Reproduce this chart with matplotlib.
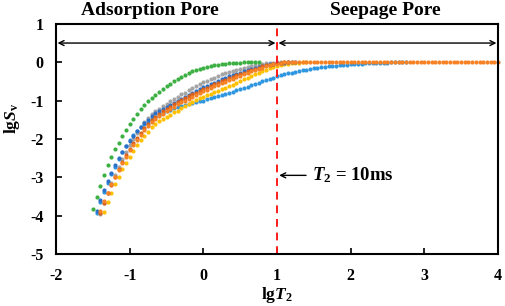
import numpy as np
import matplotlib
matplotlib.use("Agg")
import matplotlib.pyplot as plt

# lgT2 sampling step (points are evenly spaced in lgT2)
STEP = 0.05

# lgSv values for each sample; each series starts at its own lgT2
green_start = -1.50
green = [-3.84, -3.52, -3.23, -2.95, -2.69, -2.47, -2.27, -2.10, -1.93, -1.77,
         -1.62, -1.48, -1.35, -1.23, -1.12, -1.02, -0.93, -0.85, -0.77, -0.70,
         -0.63, -0.56, -0.50, -0.44, -0.38, -0.33, -0.28, -0.24, -0.20, -0.17,
         -0.15, -0.12, -0.10, -0.08, -0.065, -0.05, -0.04, -0.03, -0.022, -0.016,
         -0.011, -0.007, -0.004, -0.002, -0.001, 0.0]

lightblue_start = -1.45
lightblue = [-3.92, -3.64, -3.38, -3.14, -2.92, -2.72, -2.53, -2.35, -2.18, -2.02,
             -1.90, -1.79, -1.70, -1.62, -1.55, -1.49, -1.43, -1.38, -1.33, -1.28,
             -1.24, -1.20, -1.17, -1.14, -1.11, -1.08, -1.06, -1.04, -1.02, -1.00,
             -0.97, -0.94, -0.91, -0.88, -0.86, -0.83, -0.80, -0.77, -0.73, -0.70,
             -0.67, -0.64, -0.60, -0.57, -0.54, -0.50, -0.47, -0.44, -0.40, -0.37,
             -0.34, -0.31, -0.29, -0.27, -0.25, -0.23, -0.21, -0.19, -0.175, -0.16,
             -0.145, -0.13, -0.12, -0.11, -0.10, -0.09, -0.08, -0.07, -0.062, -0.055,
             -0.048, -0.042, -0.036, -0.03, -0.025, -0.02, -0.016, -0.013, -0.01, -0.008,
             -0.006, -0.004, -0.002, -0.001, 0.0]

darkblue_start = -1.45
darkblue = [-3.88, -3.60, -3.34, -3.10, -2.88, -2.68, -2.50, -2.33, -2.18, -2.05,
            -1.92, -1.80, -1.69, -1.59, -1.50, -1.41, -1.33, -1.27, -1.22, -1.17,
            -1.11, -1.06, -1.00, -0.95, -0.90, -0.85, -0.80, -0.75, -0.70, -0.65,
            -0.61, -0.57, -0.53, -0.49, -0.45, -0.41, -0.37, -0.34, -0.30, -0.27,
            -0.24, -0.21, -0.18, -0.15, -0.12, -0.095, -0.075, -0.055, -0.04, -0.028,
            -0.018, -0.01, -0.005, -0.002, 0.0]

gray_start = -1.40
gray = [-3.97, -3.68, -3.41, -3.16, -2.93, -2.72, -2.52, -2.33, -2.15, -1.99,
        -1.84, -1.70, -1.57, -1.45, -1.36, -1.28, -1.21, -1.14, -1.08, -1.02,
        -0.96, -0.90, -0.84, -0.79, -0.73, -0.68, -0.63, -0.57, -0.52, -0.48,
        -0.44, -0.40, -0.36, -0.32, -0.29, -0.26, -0.23, -0.20, -0.17, -0.145,
        -0.12, -0.095, -0.075, -0.06, -0.045, -0.03, -0.02, -0.01, -0.004, 0.0]

yellow_start = -1.35
yellow = [-3.90, -3.64, -3.40, -3.18, -2.98, -2.79, -2.62, -2.46, -2.31, -2.17,
          -2.04, -1.92, -1.81, -1.70, -1.60, -1.52, -1.47, -1.42, -1.37, -1.31,
          -1.26, -1.20, -1.15, -1.09, -1.04, -0.99, -0.94, -0.90, -0.86, -0.82,
          -0.78, -0.75, -0.71, -0.67, -0.63, -0.59, -0.54, -0.50, -0.45, -0.40,
          -0.36, -0.31, -0.27, -0.23, -0.19, -0.15, -0.12, -0.09, -0.07, -0.05,
          -0.035, -0.025, -0.016, -0.009, -0.004, 0.0]

brown_start = -1.40
brown = [-3.94, -3.67, -3.42, -3.19, -2.98, -2.78, -2.59, -2.42, -2.26, -2.11,
         -1.97, -1.84, -1.72, -1.61, -1.51, -1.42, -1.34, -1.28, -1.22, -1.16,
         -1.10, -1.04, -0.99, -0.94, -0.89, -0.84, -0.79, -0.74, -0.70, -0.66,
         -0.62, -0.58, -0.54, -0.50, -0.46, -0.42, -0.38, -0.34, -0.30, -0.27,
         -0.23, -0.20, -0.17, -0.14, -0.11, -0.085, -0.065, -0.045, -0.03, -0.015,
         -0.006, 0.0]

orange_start = -1.40
orange = [-3.88, -3.63, -3.40, -3.18, -2.98, -2.80, -2.62, -2.46, -2.30, -2.16,
          -2.02, -1.89, -1.77, -1.66, -1.56, -1.47, -1.40, -1.34, -1.28, -1.22,
          -1.16, -1.10, -1.05, -1.00, -0.95, -0.90, -0.85, -0.80, -0.76, -0.72,
          -0.67, -0.63, -0.59, -0.55, -0.51, -0.47, -0.43, -0.39, -0.35, -0.31,
          -0.27, -0.24, -0.20, -0.17, -0.14, -0.11, -0.08, -0.055, -0.035, -0.018,
          -0.007, 0.0,
          0.0, 0.0, 0.0, 0.0, 0.0, 0.0, 0.0, 0.0, 0.0, 0.0,
          0.0, 0.0, 0.0, 0.0, 0.0, 0.0, 0.0, 0.0, 0.0, 0.0,
          0.0, 0.0, 0.0, 0.0, 0.0, 0.0, 0.0, 0.0, 0.0, 0.0,
          0.0, 0.0, 0.0, 0.0, 0.0, 0.0, 0.0, 0.0, 0.0, 0.0,
          0.0, 0.0, 0.0, 0.0, 0.0, 0.0, 0.0, 0.0, 0.0, 0.0,
          0.0, 0.0, 0.0, 0.0, 0.0, 0.0, 0.0]

# drawing order: later series on top
series = [
    (lightblue_start, lightblue, "#2f96e0"),
    (gray_start, gray, "#a5a5a5"),
    (yellow_start, yellow, "#ffc000"),
    (darkblue_start, darkblue, "#2a70c8"),
    (green_start, green, "#3cb043"),
    (brown_start, brown, "#d8601c"),
    (orange_start, orange, "#f68226"),
]

x_ticks = [-2, -1, 0, 1, 2, 3, 4]
y_ticks = [-5, -4, -3, -2, -1, 0, 1]
boundary_lgT2 = 1.0
arrow_y = 0.5
note_y = -2.95


def main():
    plt.rcParams["font.family"] = ["Liberation Serif", "DejaVu Serif"]
    plt.rcParams["font.weight"] = "bold"
    plt.rcParams["mathtext.fontset"] = "custom"
    plt.rcParams["mathtext.rm"] = "Liberation Serif:bold"
    plt.rcParams["mathtext.it"] = "Liberation Serif:italic:bold"
    plt.rcParams["mathtext.bf"] = "Liberation Serif:bold"
    plt.rcParams["axes.unicode_minus"] = False

    fig = plt.figure(figsize=(5.05, 3.06), dpi=100)
    ax = fig.add_axes([0.111, 0.170, 0.875, 0.752])

    for start, vals, color in series:
        xs = start + STEP * np.arange(len(vals))
        ax.plot(xs, vals, linestyle="none", marker="o", markersize=3.0,
                markeredgewidth=0, color=color, clip_on=False)

    # boundary between adsorption and seepage pores
    ax.axvline(boundary_lgT2, color="#ff1a1a", linestyle=(0, (4, 3)), linewidth=1.4)

    # range arrows
    arrow_kw = dict(arrowstyle="<->", color="black", lw=1.0, mutation_scale=9,
                    shrinkA=0, shrinkB=0)
    ax.annotate("", xy=(x_ticks[0] + 0.02, arrow_y), xytext=(boundary_lgT2 - 0.02, arrow_y),
                arrowprops=arrow_kw)
    ax.annotate("", xy=(boundary_lgT2 + 0.02, arrow_y), xytext=(x_ticks[-1] - 0.02, arrow_y),
                arrowprops=arrow_kw)

    fig.text(0.297, 0.965, "Adsorption Pore", ha="center", va="center",
             fontsize=14, fontweight="bold")
    fig.text(0.763, 0.965, "Seepage Pore", ha="center", va="center",
             fontsize=14, fontweight="bold")

    ax.annotate(r"$T_2$ = 10ms", xy=(boundary_lgT2 + 0.03, note_y),
                xytext=(1.47, note_y), va="center", ha="left", fontsize=13.5,
                fontweight="bold",
                arrowprops=dict(arrowstyle="->", color="black", lw=1.0,
                                shrinkA=2, shrinkB=0, mutation_scale=9))

    ax.set_xlim(x_ticks[0], x_ticks[-1])
    ax.set_ylim(y_ticks[0], y_ticks[-1])
    ax.set_xticks(x_ticks)
    ax.set_yticks(y_ticks)
    ax.tick_params(direction="in", length=4, width=1.2, labelsize=11.5)
    ax.tick_params(axis="x", pad=10)
    ax.tick_params(axis="y", pad=9)
    for lab in ax.get_xticklabels() + ax.get_yticklabels():
        lab.set_fontweight("bold")
    for sp in ax.spines.values():
        sp.set_linewidth(1.5)

    ax.set_xlabel(r"lg$T_2$", fontsize=12.5, fontweight="bold", labelpad=1)
    ax.set_ylabel(r"lg$S_\mathrm{v}$", fontsize=12.5, fontweight="bold")
    ax.yaxis.set_label_coords(-0.077, 0.59)

    fig.savefig("out.png", dpi=100)


if __name__ == "__main__":
    main()
